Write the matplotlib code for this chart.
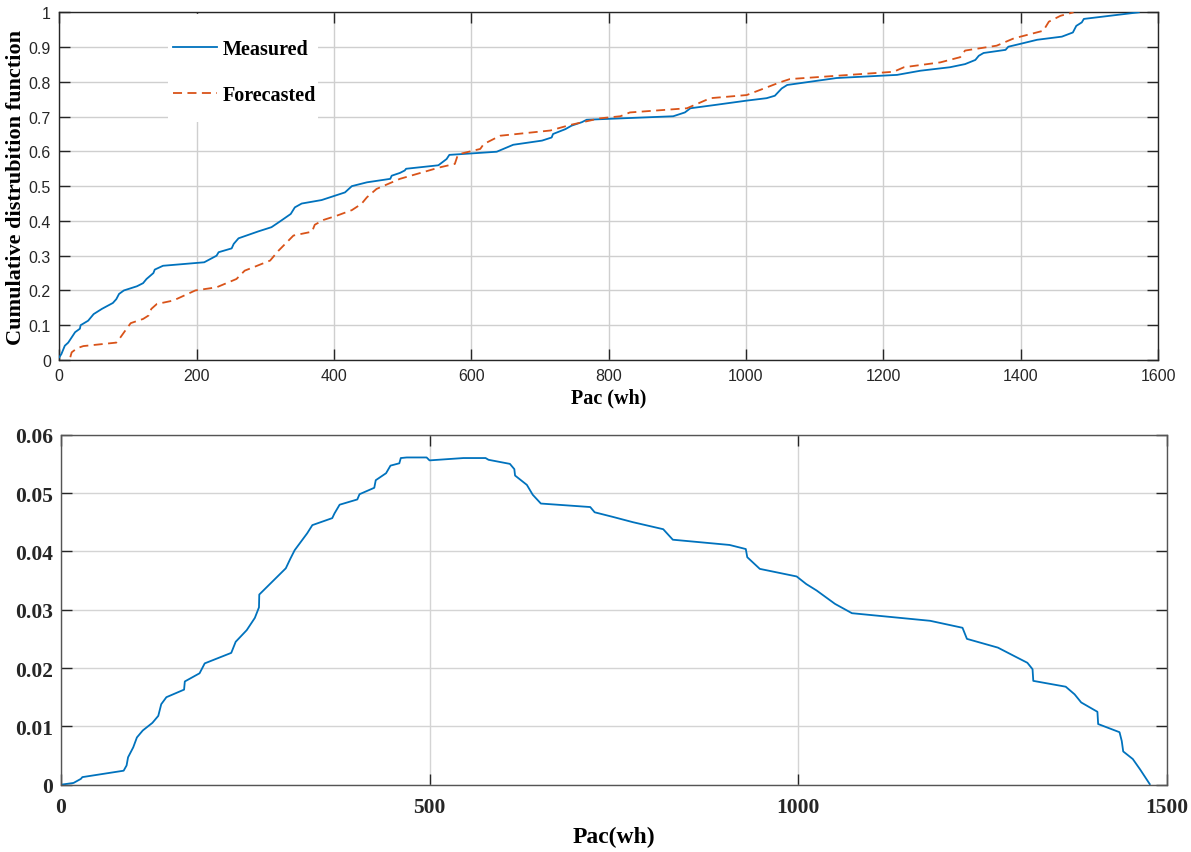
import matplotlib
matplotlib.use('Agg')
import matplotlib.pyplot as plt
from matplotlib.patches import Rectangle

# CDF, measured
measured_x = [0, 3, 8, 13, 23, 30, 31, 42, 50, 62, 78, 83, 87, 94, 113, 122, 127, 137, 139, 151,
              211, 229, 232, 251, 254, 261, 290, 309, 321, 337, 343, 353, 382, 416, 426, 448, 482,
              484, 496, 503, 505, 552, 564, 568, 584, 637, 661, 703, 717, 719, 737, 746, 761, 768,
              894, 911, 919, 953, 1001, 1030, 1042, 1052, 1060, 1132, 1220, 1254, 1297, 1319, 1334,
              1339, 1346, 1378, 1382, 1399, 1424, 1460, 1476, 1481, 1489, 1492, 1572]
measured_y = [0.008, 0.017, 0.041, 0.05, 0.08, 0.09, 0.10, 0.113, 0.132, 0.147, 0.164, 0.175, 0.19,
              0.2, 0.212, 0.221, 0.233, 0.25, 0.26, 0.271, 0.281, 0.30, 0.31, 0.321, 0.334, 0.35,
              0.37, 0.382, 0.398, 0.42, 0.439, 0.45, 0.46, 0.482, 0.5, 0.511, 0.521, 0.53, 0.538,
              0.545, 0.55, 0.56, 0.578, 0.59, 0.592, 0.599, 0.619, 0.631, 0.64, 0.65, 0.664, 0.674,
              0.684, 0.691, 0.701, 0.712, 0.724, 0.733, 0.746, 0.753, 0.76, 0.781, 0.791, 0.811,
              0.82, 0.832, 0.842, 0.851, 0.863, 0.875, 0.883, 0.892, 0.901, 0.909, 0.921, 0.93,
              0.942, 0.961, 0.971, 0.981, 1.0]

# CDF, forecasted
forecast_x = [16, 18, 26, 35, 83, 89, 98, 104, 122, 130, 134, 142, 166, 198, 229, 258, 270, 283,
              307, 319, 341, 368, 372, 385, 404, 426, 440, 448, 462, 496, 554, 576, 580, 586, 613,
              618, 642, 715, 744, 787, 817, 831, 914, 948, 1001, 1050, 1064, 1215, 1230, 1283,
              1312, 1319, 1365, 1390, 1433, 1441, 1458, 1477]
forecast_y = [0.008, 0.022, 0.034, 0.04, 0.05, 0.065, 0.09, 0.106, 0.118, 0.128, 0.147, 0.161,
              0.171, 0.2, 0.209, 0.233, 0.257, 0.267, 0.286, 0.314, 0.358, 0.369, 0.389, 0.403,
              0.415, 0.431, 0.449, 0.468, 0.492, 0.521, 0.554, 0.564, 0.588, 0.594, 0.607, 0.621,
              0.645, 0.66, 0.676, 0.695, 0.701, 0.712, 0.724, 0.753, 0.762, 0.799, 0.808, 0.829,
              0.842, 0.856, 0.871, 0.89, 0.904, 0.925, 0.947, 0.973, 0.99, 1.0]

# probability density
pdf_x = [0, 17, 27, 29, 85, 89, 91, 98, 103, 111, 124, 132, 136, 143, 167, 168, 188, 195, 231, 237,
         252, 263, 268.6, 269, 305, 311, 317, 334, 341, 368, 371, 378, 402, 405, 425, 427, 441, 447,
         459, 461, 469, 496, 500, 546, 576, 580, 609, 615, 616, 632, 640, 651, 718, 724, 749, 776,
         817, 830, 907, 929, 931, 948, 998, 1011, 1025, 1050, 1073, 1179, 1223, 1229, 1271, 1294,
         1311, 1318, 1319, 1363, 1375, 1384, 1406, 1407, 1436, 1439, 1441, 1454, 1464, 1477]
pdf_y = [0, 0.0003, 0.001, 0.0013, 0.0024, 0.0033, 0.0047, 0.0064, 0.0081, 0.0093, 0.0106, 0.0118,
         0.0138, 0.015, 0.0163, 0.0177, 0.0191, 0.0208, 0.0226, 0.0245, 0.0265, 0.0286, 0.0304,
         0.0326, 0.0371, 0.0387, 0.0402, 0.0431, 0.0445, 0.0457, 0.0465, 0.048, 0.0489, 0.0498,
         0.0509, 0.0522, 0.0534, 0.0547, 0.0551, 0.056, 0.0561, 0.0561, 0.0556, 0.056, 0.056,
         0.0557, 0.055, 0.0541, 0.053, 0.0514, 0.0497, 0.0482, 0.0476, 0.0467, 0.0459, 0.045,
         0.0438, 0.042, 0.0411, 0.0404, 0.039, 0.037, 0.0357, 0.0344, 0.0333, 0.031, 0.0294,
         0.0281, 0.0269, 0.025, 0.0235, 0.022, 0.0209, 0.0198, 0.0178, 0.0168, 0.0155, 0.0141,
         0.0125, 0.0104, 0.009, 0.0075, 0.0057, 0.0044, 0.0026, 0.0001]

BLUE = '#0072BD'
ORANGE = '#D95319'
SERIF = 'Liberation Serif'
SANS = 'Liberation Sans'


def main():
    fig = plt.figure(figsize=(11.91, 8.53), dpi=100)

    # --- top: CDF ---
    ax1 = fig.add_axes([0.0498, 0.5768, 0.9225, 0.4076])
    ax1.plot(measured_x, measured_y, color=BLUE, lw=1.3, label='Measured', zorder=3)
    ax1.plot(forecast_x, forecast_y, color=ORANGE, lw=1.3, ls=(0, (5, 3)), label='Forecasted', zorder=3)
    ax1.set_xlim(0, 1600)
    ax1.set_ylim(0, 1)
    ax1.set_xticks(range(0, 1601, 200))
    ax1.set_yticks([i / 10 for i in range(11)])
    ax1.set_yticklabels(['0', '0.1', '0.2', '0.3', '0.4', '0.5', '0.6', '0.7', '0.8', '0.9', '1'])
    ax1.grid(True, color='#cfcfcf', lw=1.0)
    ax1.tick_params(direction='in', length=8, width=1, top=True, right=True,
                    labelsize=11.5, colors='#262626', pad=6)
    for lab in ax1.get_xticklabels() + ax1.get_yticklabels():
        lab.set_family(SANS)
    for s in ax1.spines.values():
        s.set_color('#262626')
        s.set_linewidth(1.0)
    ax1.set_xlabel('Pac (wh)', fontsize=14.5, fontweight='bold', family=SERIF, labelpad=3)
    ax1.set_ylabel('Cumulative distrubition function', fontsize=16, fontweight='bold',
                   family=SERIF, labelpad=2)
    ax1.add_patch(Rectangle((0.0987, 0.684), 0.137, 0.312, transform=ax1.transAxes,
                            facecolor='white', edgecolor='none', zorder=2))
    leg = ax1.legend(loc='upper left', bbox_to_anchor=(0.098, 0.94), frameon=False,
                     prop={'family': SERIF, 'weight': 'bold', 'size': 14.5},
                     handlelength=2.2, handletextpad=0.25, labelspacing=1.3,
                     borderpad=0.3, borderaxespad=0)
    leg.set_zorder(4)

    # --- bottom: density ---
    ax2 = fig.add_axes([0.0512, 0.0789, 0.9284, 0.4103])
    ax2.plot(pdf_x, pdf_y, color=BLUE, lw=1.3)
    ax2.set_xlim(0, 1500)
    ax2.set_ylim(0, 0.06)
    ax2.set_xticks([0, 500, 1000, 1500])
    ax2.set_yticks([0, 0.01, 0.02, 0.03, 0.04, 0.05, 0.06])
    ax2.set_yticklabels(['0', '0.01', '0.02', '0.03', '0.04', '0.05', '0.06'])
    ax2.grid(True, color='#d4d4d4', lw=1.0)
    ax2.tick_params(direction='in', length=8, width=1, top=True, right=True,
                    labelsize=15.5, colors='#262626', pad=6)
    for lab in ax2.get_xticklabels() + ax2.get_yticklabels():
        lab.set_family(SERIF)
        lab.set_fontweight('bold')
    ax2.tick_params(axis='x', pad=9)
    for s in ax2.spines.values():
        s.set_color('#555555')
        s.set_linewidth(1.0)
    ax2.set_xlabel('Pac(wh)', fontsize=17, fontweight='bold', family=SERIF, labelpad=6)

    fig.savefig('out.png', dpi=100)


if __name__ == '__main__':
    main()
